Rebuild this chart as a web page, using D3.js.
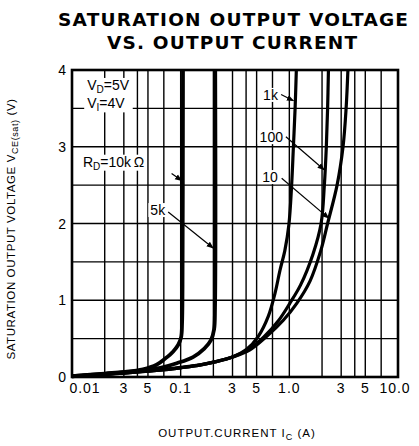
<!DOCTYPE html>
<html>
<head>
<meta charset="utf-8">
<script src="https://cdn.jsdelivr.net/npm/d3@7"></script>
<style>
  body { margin: 0; background: #fff; }
  svg { display: block; font-family: "Liberation Sans", Arial, sans-serif; }
</style>
</head>
<body>
<svg width="419" height="446"></svg>
<script>
// curves: [Ic (A), Vce(sat) (V)]
const rd10k = [[0.01,0.01],[0.02,0.045],[0.03,0.065],[0.045,0.1],[0.06,0.16],[0.072,0.24],[0.085,0.33],[0.095,0.42],[0.101,0.52],[0.103,0.7],[0.104,1.2],[0.105,4]];
const rd5k = [[0.01,0.01],[0.02,0.04],[0.03,0.06],[0.045,0.085],[0.065,0.12],[0.092,0.18],[0.13,0.26],[0.165,0.37],[0.19,0.48],[0.203,0.62],[0.207,0.9],[0.208,4]];
const rd1k = [[0.01,0.01],[0.03,0.055],[0.06,0.09],[0.1,0.125],[0.15,0.16],[0.214,0.2],[0.3,0.26],[0.405,0.36],[0.518,0.53],[0.64,0.79],[0.738,1.09],[0.82,1.39],[0.91,1.65],[0.99,1.98],[1.05,2.5],[1.09,3.0],[1.13,3.5],[1.16,4]];
const rd100 = [[0.01,0.01],[0.03,0.05],[0.06,0.085],[0.1,0.12],[0.15,0.155],[0.21,0.2],[0.3,0.26],[0.42,0.36],[0.58,0.52],[0.8,0.74],[1.01,0.96],[1.27,1.2],[1.65,1.6],[1.96,2.0],[2.1,2.5],[2.19,3.0],[2.25,3.5],[2.29,4]];
const rd10 = [[0.01,0.01],[0.03,0.05],[0.06,0.085],[0.1,0.12],[0.15,0.155],[0.21,0.2],[0.3,0.26],[0.43,0.35],[0.62,0.53],[0.88,0.74],[1.17,0.96],[1.55,1.25],[1.95,1.65],[2.25,2.0],[2.75,2.5],[3.12,3.0],[3.33,3.5],[3.46,4]];

const xGrid = [0.02,0.03,0.04,0.05,0.07,0.1,0.2,0.3,0.4,0.5,0.7,1,2,3,4,5,7];
const xLabels = [[0.01,"0.01"],[0.03,"3"],[0.05,"5"],[0.1,"0.1"],[0.3,"3"],[0.5,"5"],[1,"1.0"],[3,"3"],[5,"5"],[10,"10.0"]];
const yGrid = [0.5,1,1.5,2,2.5,3,3.5];
const yLabels = [0,1,2,3,4];

// curve labels: text, text anchor point, leader start, leader end (data units)
const notes = [
  {name: "10k", t: [0.0126, 2.74], anchor: "start", a: [0.0825, 2.65], b: [0.102, 2.56]},
  {name: "5k",  t: [0.072, 2.11],  anchor: "end",   a: [0.0768, 2.15], b: [0.199, 1.68]},
  {name: "1k",  t: [0.785, 3.61],  anchor: "end",   a: [0.84, 3.68],  b: [1.09, 3.6]},
  {name: "100", t: [0.874, 3.06],  anchor: "end",   a: [0.93, 3.13],  b: [2.09, 2.7]},
  {name: "10",  t: [0.785, 2.54],  anchor: "end",   a: [0.85, 2.59],  b: [2.3, 2.07]}
];

const svg = d3.select("svg");
const mLeft = 72, mRight = 398, mTop = 70, mBottom = 377;

const x = d3.scaleLog().domain([0.01, 10]).range([mLeft, mRight]);
const y = d3.scaleLinear().domain([0, 4]).range([mBottom, mTop]);

svg.append("defs").append("marker")
  .attr("id", "arr").attr("viewBox", "0 0 10 10")
  .attr("refX", 9).attr("refY", 5)
  .attr("markerWidth", 6).attr("markerHeight", 6)
  .attr("orient", "auto")
  .append("path").attr("d", "M0,1L10,5L0,9z").attr("fill", "#000");

// title
svg.append("text").attr("x", 233).attr("y", 26)
  .attr("text-anchor", "middle").attr("font-size", 18.5).attr("font-weight", "bold")
  .attr("font-family", "'DejaVu Sans', sans-serif")
  .attr("textLength", 350).attr("lengthAdjust", "spacing")
  .text("SATURATION OUTPUT VOLTAGE");
svg.append("text").attr("x", 232).attr("y", 49)
  .attr("text-anchor", "middle").attr("font-size", 18.5).attr("font-weight", "bold")
  .attr("font-family", "'DejaVu Sans', sans-serif")
  .attr("textLength", 250).attr("lengthAdjust", "spacing")
  .text("VS. OUTPUT CURRENT");

// grid
const g = svg.append("g");
g.selectAll(".vg").data(xGrid).enter().append("line")
  .attr("x1", d => x(d)).attr("x2", d => x(d))
  .attr("y1", mTop).attr("y2", mBottom)
  .attr("stroke", "#000").attr("stroke-width", 1.4);
g.selectAll(".hg").data(yGrid).enter().append("line")
  .attr("x1", mLeft).attr("x2", mRight)
  .attr("y1", d => y(d)).attr("y2", d => y(d))
  .attr("stroke", "#000").attr("stroke-width", 1.4);

// white boxes behind label text
function boxed(sel) {
  const bb = sel.node().getBBox();
  sel.node().parentNode.insertBefore(
    d3.create("svg:rect")
      .attr("x", bb.x - 2).attr("y", bb.y + 1)
      .attr("width", bb.width + 4).attr("height", bb.height - 2)
      .attr("fill", "#fff").node(),
    sel.node());
}

const cond = svg.append("g").attr("font-size", 14);
const vd = cond.append("text").attr("x", x(0.0138)).attr("y", y(3.74));
vd.append("tspan").text("V");
vd.append("tspan").attr("font-size", 10).attr("dy", 3).text("D");
vd.append("tspan").attr("dy", -3).text("=5V");
const vi = cond.append("text").attr("x", x(0.0138)).attr("y", y(3.5));
vi.append("tspan").text("V");
vi.append("tspan").attr("font-size", 10).attr("dy", 3).text("I");
vi.append("tspan").attr("dy", -3).text("=4V");
{
  const a = vd.node().getBBox(), b = vi.node().getBBox();
  cond.insert("rect", "text")
    .attr("x", a.x - 3).attr("y", a.y + 1)
    .attr("width", Math.max(a.width, b.width) + 6)
    .attr("height", b.y + b.height - a.y - 2)
    .attr("fill", "#fff");
}

// curves
const line = d3.line().x(d => x(d[0])).y(d => y(d[1])).curve(d3.curveCatmullRom.alpha(0.5));
const curves = [rd10k, rd5k, rd1k, rd100, rd10];
svg.append("g").selectAll("path").data(curves).enter().append("path")
  .attr("d", line)
  .attr("fill", "none").attr("stroke", "#000")
  .attr("stroke-width", (d, i) => i < 2 ? 3.8 : 3.2)
  .attr("stroke-linejoin", "round");

// labels with leader lines
const lab = svg.append("g").attr("font-size", 14);
notes.forEach(n => {
  const t = lab.append("text")
    .attr("x", x(n.t[0])).attr("y", y(n.t[1]))
    .attr("text-anchor", n.anchor);
  if (n.name === "10k") {
    t.append("tspan").text("R");
    t.append("tspan").attr("font-size", 10).attr("dy", 3).text("D");
    t.append("tspan").attr("dy", -3).text("=10k\u2009\u03A9");
  } else {
    t.text(n.name);
  }
  boxed(t);
  lab.append("line")
    .attr("x1", x(n.a[0])).attr("y1", y(n.a[1]))
    .attr("x2", x(n.b[0])).attr("y2", y(n.b[1]))
    .attr("stroke", "#000").attr("stroke-width", 1.2)
    .attr("marker-end", "url(#arr)");
});

// frame
svg.append("rect")
  .attr("x", mLeft).attr("y", mTop)
  .attr("width", mRight - mLeft).attr("height", mBottom - mTop)
  .attr("fill", "none").attr("stroke", "#000").attr("stroke-width", 2.6);

// tick labels
svg.append("g").selectAll("text").data(yLabels).enter().append("text")
  .attr("x", mLeft - 6).attr("y", d => y(d) + 5)
  .attr("text-anchor", "end").attr("font-size", 14)
  .text(d => d);

svg.append("g").selectAll("text").data(xLabels).enter().append("text")
  .attr("x", d => d[0] === 0.01 ? x(d[0]) + 13 : x(d[0]) - (d[0] === 10 ? 3 : 0))
  .attr("y", 393)
  .attr("text-anchor", "middle").attr("font-size", 14)
  .attr("letter-spacing", 1)
  .text(d => d[1]);

// axis titles
const xt = svg.append("text").attr("x", 237).attr("y", 437)
  .attr("text-anchor", "middle").attr("font-size", 11.5).attr("letter-spacing", 1);
xt.append("tspan").text("OUTPUT.CURRENT  I");
xt.append("tspan").attr("font-size", 9).attr("dy", 3).text("C");
xt.append("tspan").attr("dy", -3).text(" (A)");

const yt = svg.append("text")
  .attr("transform", "translate(15,229) rotate(-90)")
  .attr("text-anchor", "middle").attr("font-size", 11.5).attr("letter-spacing", 0.6);
yt.append("tspan").text("SATURATION OUTPUT VOLTAGE  V");
yt.append("tspan").attr("font-size", 9).attr("dy", 3).text("CE(sat)");
yt.append("tspan").attr("dy", -3).text("  (V)");
</script>
</body>
</html>
